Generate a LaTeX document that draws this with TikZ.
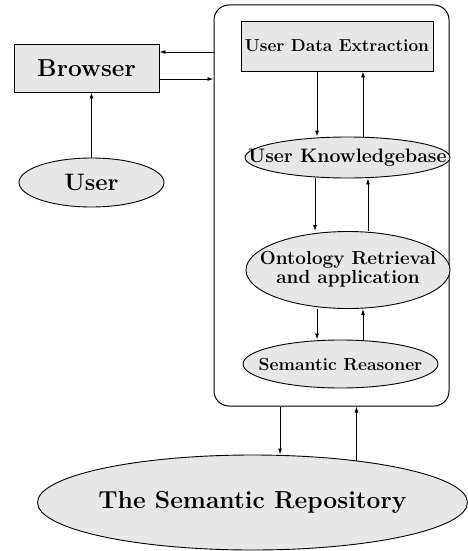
\documentclass[tikz,border=0pt]{standalone}
\usetikzlibrary{shapes.geometric,arrows.meta}
\definecolor{boxfill}{gray}{0.905}
\newcommand{\zw}[1]{\makebox[0pt]{#1}}
\tikzset{
  every picture/.style={x=1pt,y=-1pt},
  arr/.style={line width=0.9pt,-{Latex[length=6pt,width=4pt]}},
  boxnode/.style={draw,line width=0.9pt,fill=boxfill,inner sep=0pt,font=\bfseries},
  ellnode/.style={draw,ellipse,line width=0.9pt,fill=boxfill,inner sep=0pt,font=\bfseries},
}
\begin{document}
\begin{tikzpicture}
\useasboundingbox (0,0) rectangle (467,551);
% container
\node[draw,line width=1pt,rounded corners=15pt,minimum width=235pt,minimum height=401pt,inner sep=0pt] (cont) at (331.5,205.5) {};
% left side
\node[boxnode,minimum width=145pt,minimum height=48pt,font=\bfseries\fontsize{24.5}{26}\selectfont] (browser) at (86.5,68) {Browser};
\node[ellnode,minimum width=145pt,minimum height=49pt,font=\bfseries\fontsize{23.8}{25}\selectfont] (user) at (91.5,182.5) {\zw{User}};
% inner nodes
\node[boxnode,minimum width=192pt,minimum height=50pt,font=\bfseries\fontsize{17.3}{18}\selectfont] (ude) at (337,46) {User Data Extraction};
\node[ellnode,minimum width=205pt,minimum height=41pt,font=\bfseries\fontsize{19.5}{21}\selectfont] (uk) at (347.5,157.5) {\zw{User Knowledgebase}};
\node[ellnode,minimum width=204pt,minimum height=77pt,font=\bfseries\fontsize{18.9}{19.5}\selectfont] (onto) at (348,270) {\zw{\begin{tabular}{@{}c@{}}Ontology Retrieval\\and application\end{tabular}}};
\node[ellnode,minimum width=195pt,minimum height=48pt,font=\bfseries\fontsize{17.5}{18}\selectfont] (sr) at (340.5,364) {\zw{Semantic Reasoner}};
\node[ellnode,minimum width=430pt,minimum height=95pt,font=\bfseries\fontsize{24.6}{26}\selectfont] (repo) at (252.5,502.5) {\zw{The Semantic Repository}};
% connectors
\draw[arr] (user.north) -- (user.north |- browser.south);
\draw[arr] (cont.west |- 0,52) -- (browser.east |- 0,52);
\draw[arr] (browser.east |- 0,79) -- (cont.west |- 0,79);
\draw[arr] (ude.south -| 317,0) -- (uk.north -| 317,0);
\draw[arr] (uk.north -| 363,0) -- (ude.south -| 363,0);
\draw[arr] (uk.south -| 315,0) -- (onto.north -| 315,0);
\draw[arr] (onto.north -| 368,0) -- (uk.south -| 368,0);
\draw[arr] (onto.south -| 317,0) -- (sr.north -| 317,0);
\draw[arr] (sr.north -| 363,0) -- (onto.south -| 363,0);
\draw[arr] (cont.south -| 280,0) -- (repo.north -| 280,0);
\draw[arr] (repo.22.7) -- (repo.22.7 |- cont.south);
\end{tikzpicture}
\end{document}
